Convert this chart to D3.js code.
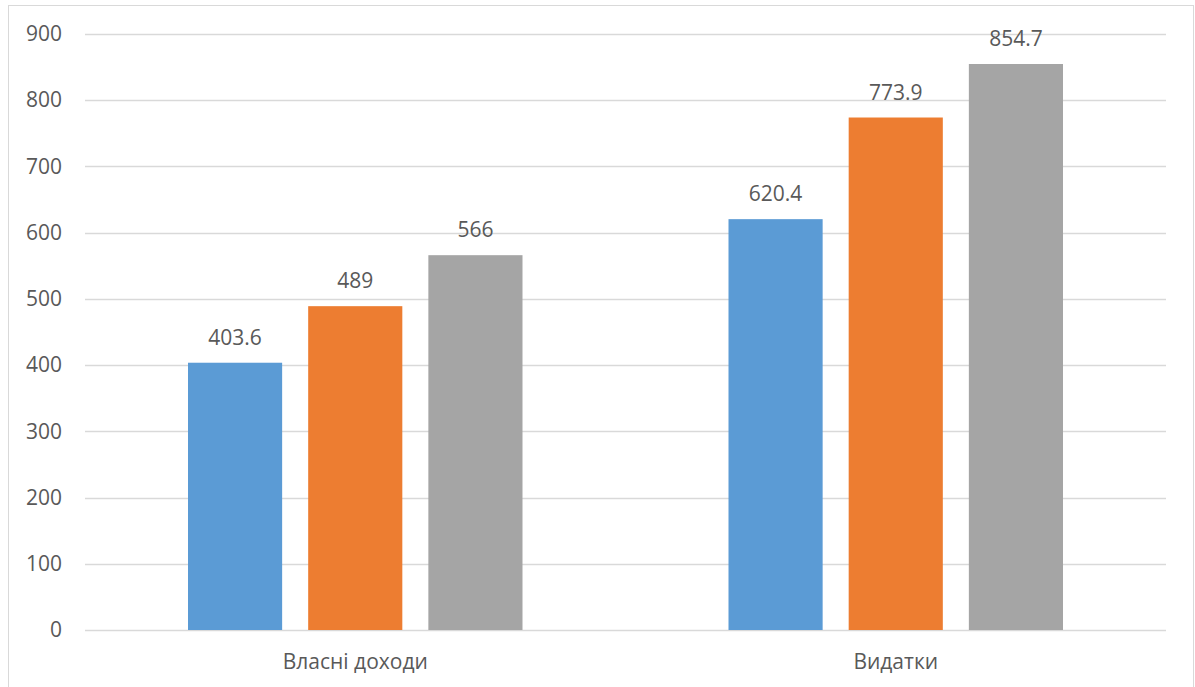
<!DOCTYPE html>
<html>
<head>
<meta charset="utf-8">
<script src="https://d3js.org/d3.v7.min.js"></script>
<style>
  html, body { margin: 0; padding: 0; background: #fff; }
  svg { display: block; }
  text { font-family: "Open Sans", "Noto Sans", sans-serif; fill: #595959; }
</style>
</head>
<body>
<svg id="chart" width="1195" height="687"></svg>
<script>
// Budget categories and values for three periods
const categories = ["Власні доходи", "Видатки"];
const seriesNames = ["s1", "s2", "s3"];
const series1 = [403.6, 620.4];
const series2 = [489, 773.9];
const series3 = [566, 854.7];
const valueLabels1 = ["403.6", "620.4"];
const valueLabels2 = ["489", "773.9"];
const valueLabels3 = ["566", "854.7"];
const yTicks = [0, 100, 200, 300, 400, 500, 600, 700, 800, 900];
const colors = ["#5b9bd5", "#ed7d31", "#a5a5a5"];

const seriesValues = [series1, series2, series3];
const seriesLabels = [valueLabels1, valueLabels2, valueLabels3];

const FONT = "'Open Sans', 'Noto Sans', sans-serif";
const FS = 21;

const svg = d3.select("#chart");
const W = 1195, H = 687;

// Outer chart border
svg.append("rect")
  .attr("x", 8.5).attr("y", 5.5)
  .attr("width", W - 10).attr("height", H)
  .attr("fill", "none").attr("stroke", "#d9d9d9").attr("stroke-width", 1);

const plot = { left: 85, right: 1166, top: 34, bottom: 630 };

const x0 = d3.scaleBand()
  .domain(categories)
  .range([plot.left, plot.right])
  .paddingInner(0).paddingOuter(0);

const groupInner = d3.scaleBand()
  .domain(seriesNames)
  .range([103, x0.bandwidth() - 103])
  .paddingInner(26 / 120)
  .paddingOuter(0);

const y = d3.scaleLinear().domain([0, 900]).range([plot.bottom, plot.top]);

// Horizontal gridlines
svg.append("g")
  .selectAll("line")
  .data(yTicks)
  .join("line")
  .attr("x1", plot.left).attr("x2", plot.right)
  .attr("y1", d => Math.round(y(d)) + 0.5)
  .attr("y2", d => Math.round(y(d)) + 0.5)
  .attr("stroke", "#d9d9d9").attr("stroke-width", 1.3);

// Y axis tick labels
const yAxis = d3.axisLeft(y).tickValues(yTicks).tickSize(0).tickPadding(0);
const yg = svg.append("g").attr("transform", `translate(62,0)`).call(yAxis);
yg.select(".domain").remove();
yg.selectAll("text")
  .attr("font-size", FS)
  .attr("fill", "#595959")
  .style("font-family", FONT);

// Bars and value labels
const groups = svg.append("g")
  .selectAll("g")
  .data(categories)
  .join("g")
  .attr("transform", d => `translate(${x0(d)},0)`);

groups.each(function(cat, ci) {
  const g = d3.select(this);
  seriesNames.forEach((s, si) => {
    const v = seriesValues[si][ci];
    g.append("rect")
      .attr("x", groupInner(s))
      .attr("width", groupInner.bandwidth())
      .attr("y", y(v))
      .attr("height", y(0) - y(v))
      .attr("fill", colors[si]);
    g.append("text")
      .attr("x", groupInner(s) + groupInner.bandwidth() / 2)
      .attr("y", y(v) - 18)
      .attr("text-anchor", "middle")
      .attr("font-size", FS)
      .style("font-family", FONT)
      .text(seriesLabels[si][ci]);
  });
});

// Category axis labels
const xAxis = d3.axisBottom(x0).tickSize(0).tickPadding(0);
const xg = svg.append("g").attr("transform", `translate(0,${plot.bottom + 39})`).call(xAxis);
xg.select(".domain").remove();
xg.selectAll("text")
  .attr("dy", 0)
  .attr("font-size", FS)
  .attr("fill", "#595959")
  .style("font-family", FONT);
</script>
</body>
</html>
